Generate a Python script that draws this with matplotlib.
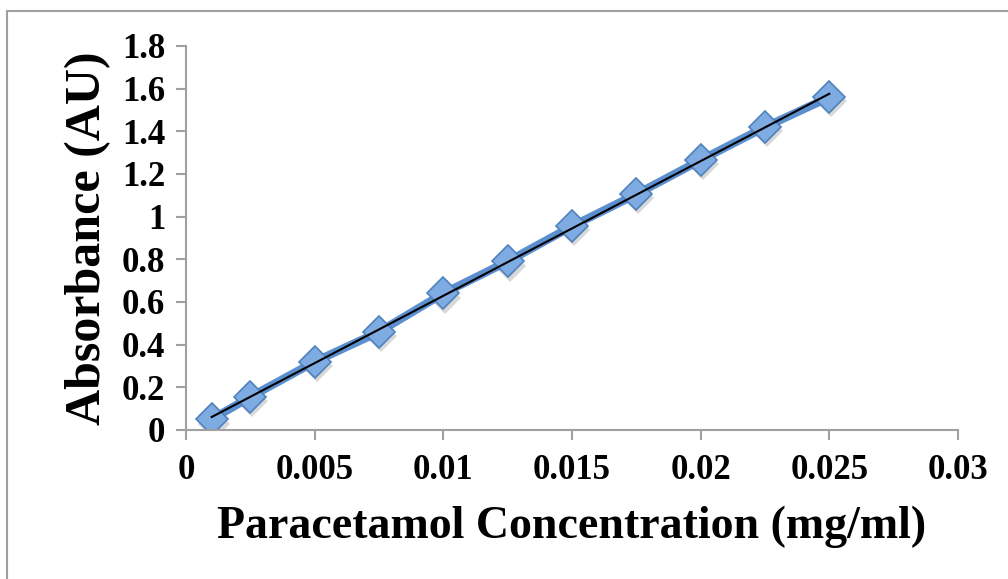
import matplotlib.pyplot as plt
import matplotlib.transforms as mtransforms
from matplotlib.patches import Rectangle
from matplotlib.ticker import FuncFormatter
import numpy as np

plt.rcParams['font.family'] = ['Liberation Serif', 'DejaVu Serif']
plt.rcParams['font.weight'] = 'bold'

# calibration data: concentration (mg/ml) vs absorbance (AU)
conc = [0.001, 0.0025, 0.005, 0.0075, 0.01, 0.0125, 0.015, 0.0175, 0.02, 0.0225, 0.025]
absorbance = [0.05, 0.155, 0.32, 0.46, 0.64, 0.79, 0.955, 1.105, 1.265, 1.42, 1.56]

x_ticks = [0, 0.005, 0.01, 0.015, 0.02, 0.025, 0.03]
y_ticks = [0, 0.2, 0.4, 0.6, 0.8, 1, 1.2, 1.4, 1.6, 1.8]

fig = plt.figure(figsize=(10.08, 5.79), dpi=100)
ax = fig.add_axes([186 / 1008, 1 - 430 / 579, (958 - 186) / 1008, (430 - 46) / 579])

# chart frame
fig.patches.append(Rectangle((7 / 1008, -0.05), 1.1, 1 - 11 / 579 + 0.05,
                             transform=fig.transFigure, fill=False,
                             edgecolor='#a0a0a0', linewidth=1.5))

line_col = '#4f81bd'
face_col = '#7eabe2'

# drop shadow under the markers
shadow = mtransforms.offset_copy(ax.transData, fig=fig, x=1.5, y=-3, units='points')
ax.plot(conc, absorbance, linestyle='none', marker='D', markersize=16,
        color='#808080', alpha=0.3, markeredgewidth=0, transform=shadow, zorder=1)

ax.plot(conc, absorbance, color='#5b8fd0', linewidth=6, marker='D',
        markersize=16, markerfacecolor=face_col, markeredgecolor=line_col,
        markeredgewidth=1.2, zorder=2)

# linear trendline
slope, intercept = np.polyfit(conc, absorbance, 1)
fit_x = np.array([conc[0], conc[-1]])
ax.plot(fit_x, slope * fit_x + intercept, color='black', linewidth=1.5, zorder=3)

ax.set_xlim(0, 0.03)
ax.set_ylim(0, 1.8)
ax.set_xticks(x_ticks)
ax.set_yticks(y_ticks)
fmt = FuncFormatter(lambda v, pos: f'{v:g}')
ax.xaxis.set_major_formatter(fmt)
ax.yaxis.set_major_formatter(fmt)

for side in ['top', 'right']:
    ax.spines[side].set_visible(False)
for side in ['left', 'bottom']:
    ax.spines[side].set_color('#a0a0a0')
    ax.spines[side].set_linewidth(1.5)

ax.tick_params(direction='out', length=7, width=1.5, color='#a0a0a0',
               labelsize=25, labelcolor='black')
ax.tick_params(axis='y', pad=8)
ax.tick_params(axis='x', pad=10)

ax.set_xlabel('Paracetamol Concentration (mg/ml)', fontsize=33, fontweight='bold', labelpad=14)
ax.set_ylabel('Absorbance (AU)', fontsize=36, fontweight='bold', labelpad=8)

fig.savefig('out.png', dpi=100)
